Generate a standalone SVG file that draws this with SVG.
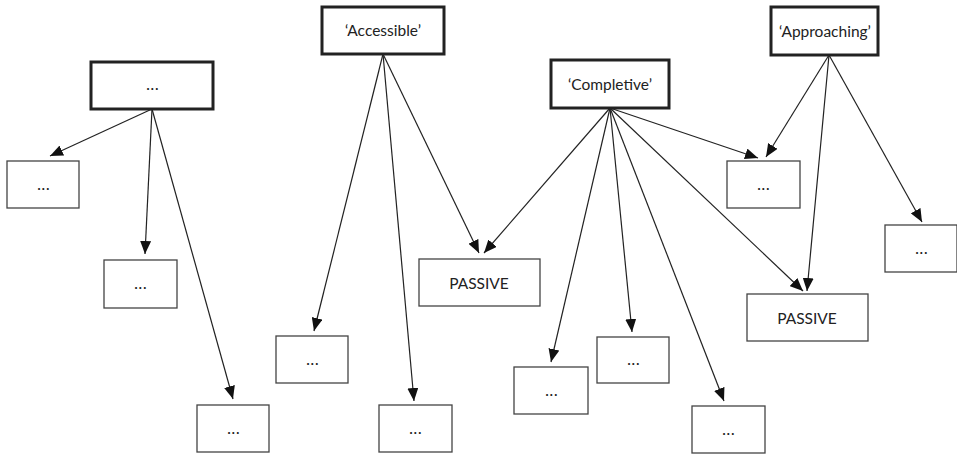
<svg xmlns="http://www.w3.org/2000/svg" width="957" height="455" viewBox="0 0 957 455">
<style>
.thick{fill:#fff;stroke:#222;stroke-width:3}
.thin{fill:#fff;stroke:#444;stroke-width:1.3}
text{font-family:Lato,"Open Sans","Liberation Sans",sans-serif;font-size:15.5px;fill:#222;text-anchor:middle;dominant-baseline:central}
.dots{font-weight:bold;font-size:13px;letter-spacing:1.2px}
.e{stroke:#222;stroke-width:1.2;fill:none;marker-end:url(#ah)}
</style>
<defs>
<marker id="ah" markerUnits="userSpaceOnUse" markerWidth="13" markerHeight="11" refX="13" refY="5.5" orient="auto">
<path d="M0,0 L13,5.5 L0,11 z" fill="#111"/>
</marker>
</defs>
<rect width="957" height="455" fill="#fff"/>
<g id="connectors">
<line class="e" x1="152" y1="109" x2="50" y2="156"/>
<line class="e" x1="152" y1="109" x2="145" y2="254"/>
<line class="e" x1="152" y1="109" x2="233" y2="399"/>
<line class="e" x1="383" y1="54" x2="314" y2="331"/>
<line class="e" x1="383" y1="54" x2="414" y2="401"/>
<line class="e" x1="383" y1="54" x2="479" y2="253"/>
<line class="e" x1="610" y1="108" x2="484" y2="253"/>
<line class="e" x1="610" y1="108" x2="551" y2="362"/>
<line class="e" x1="610" y1="108" x2="632" y2="332"/>
<line class="e" x1="610" y1="108" x2="724" y2="401"/>
<line class="e" x1="610" y1="108" x2="758" y2="158"/>
<line class="e" x1="610" y1="108" x2="803" y2="291"/>
<line class="e" x1="829" y1="55" x2="766" y2="157"/>
<line class="e" x1="829" y1="55" x2="807" y2="291"/>
<line class="e" x1="829" y1="55" x2="922" y2="222"/>
</g>
<g id="n_top_left"><rect class="thick" x="91" y="62" width="122" height="47"/><text class="dots" x="153" y="85">...</text></g>
<g id="n_accessible"><rect class="thick" x="322" y="7" width="122" height="47"/><text x="383" y="30">‘Accessible’</text></g>
<g id="n_completive"><rect class="thick" x="551" y="60" width="118" height="48"/><text x="610" y="84">‘Completive’</text></g>
<g id="n_approaching"><rect class="thick" x="771" y="7" width="107" height="48"/><text x="825" y="31">‘Approaching’</text></g>
<g id="n_a1"><rect class="thin" x="7" y="161" width="72" height="47"/><text class="dots" x="44" y="185">...</text></g>
<g id="n_a2"><rect class="thin" x="104" y="260" width="73" height="48"/><text class="dots" x="141" y="284">...</text></g>
<g id="n_a3"><rect class="thin" x="197" y="405" width="72" height="47"/><text class="dots" x="234" y="429">...</text></g>
<g id="n_b1"><rect class="thin" x="276" y="336" width="72" height="47"/><text class="dots" x="313" y="360">...</text></g>
<g id="n_b2"><rect class="thin" x="379" y="405" width="73" height="47"/><text class="dots" x="416" y="429">...</text></g>
<g id="n_passive1"><rect class="thin" x="419" y="259" width="121" height="47"/><text x="479" y="283">PASSIVE</text></g>
<g id="n_c1"><rect class="thin" x="514" y="367" width="74" height="47"/><text class="dots" x="552" y="391">...</text></g>
<g id="n_c2"><rect class="thin" x="597" y="337" width="72" height="46"/><text class="dots" x="634" y="360">...</text></g>
<g id="n_c3"><rect class="thin" x="692" y="406" width="73" height="47"/><text class="dots" x="729" y="430">...</text></g>
<g id="n_d1"><rect class="thin" x="727" y="161" width="73" height="47"/><text class="dots" x="764" y="185">...</text></g>
<g id="n_passive2"><rect class="thin" x="747" y="294" width="121" height="47"/><text x="807" y="318">PASSIVE</text></g>
<g id="n_e1"><rect class="thin" x="885" y="225" width="72" height="47"/><text class="dots" x="922" y="249">...</text></g>
</svg>
